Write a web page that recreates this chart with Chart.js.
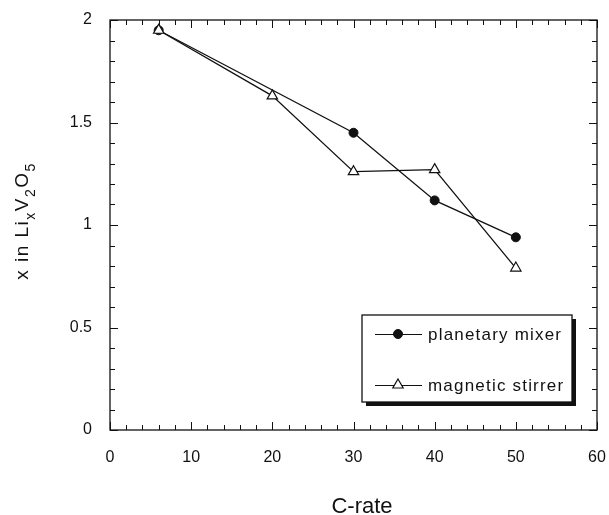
<!DOCTYPE html>
<html>
<head>
<meta charset="utf-8">
<script src="https://cdn.jsdelivr.net/npm/chart.js@4.4.1/dist/chart.umd.min.js"></script>
<style>
  html, body { margin: 0; padding: 0; background: #fff; }
  #wrap { width: 609px; height: 515px; position: relative; }
</style>
</head>
<body>
<div id="wrap"><canvas id="chart" width="609" height="515"></canvas></div>
<script>
// values
const mixerRate = [6, 30, 40, 50];
const mixerX = [1.95, 1.45, 1.12, 0.94];
const stirrerRate = [6, 20, 30, 40, 50];
const stirrerX = [1.95, 1.63, 1.26, 1.27, 0.79];
const xTicks = [0, 10, 20, 30, 40, 50, 60];
const yTicks = [0, 0.5, 1, 1.5, 2];
const seriesNames = ["planetary mixer", "magnetic stirrer"];

const FONT = "'Liberation Sans', Arial, sans-serif";

const toPts = (xs, ys) => xs.map((x, i) => ({ x, y: ys[i] }));

// inward ticks on all four sides, frame, axis titles, legend box
const frame = {
  id: "frame",
  afterDraw(chart) {
    const { ctx, chartArea: a, scales: { x, y } } = chart;
    ctx.save();
    ctx.strokeStyle = "#111";
    ctx.lineWidth = 1.3;
    ctx.strokeRect(a.left, a.top, a.right - a.left, a.bottom - a.top);
    ctx.lineWidth = 1;
    ctx.beginPath();
    for (let v = 0; v <= 60; v += 2) {
      const px = Math.round(x.getPixelForValue(v)) + 0.5;
      const len = v % 10 === 0 ? 8 : 5;
      ctx.moveTo(px, a.bottom); ctx.lineTo(px, a.bottom - len);
      ctx.moveTo(px, a.top); ctx.lineTo(px, a.top + len);
    }
    for (let i = 0; i <= 20; i++) {
      const py = Math.round(y.getPixelForValue(i / 10)) + 0.5;
      const len = i % 5 === 0 ? 8 : 5;
      ctx.moveTo(a.left, py); ctx.lineTo(a.left + len, py);
      ctx.moveTo(a.right, py); ctx.lineTo(a.right - len, py);
    }
    ctx.stroke();

    // x title
    ctx.fillStyle = "#111";
    ctx.font = "22px " + FONT;
    ctx.textAlign = "center";
    ctx.textBaseline = "middle";
    ctx.fillText("C-rate", 362, 507);

    // y title with subscripts
    ctx.textBaseline = "alphabetic";
    ctx.letterSpacing = "1.5px";
    const parts = [["x in Li", 0], ["x", 1], ["V", 0], ["2", 1], ["O", 0], ["5", 1]];
    const big = "19px " + FONT, small = "14px " + FONT;
    let total = 0;
    parts.forEach(([t, s]) => { ctx.font = s ? small : big; total += ctx.measureText(t).width; });
    ctx.translate(28, 221);
    ctx.rotate(-Math.PI / 2);
    ctx.textAlign = "left";
    let cx = -total / 2;
    parts.forEach(([t, s]) => {
      ctx.font = s ? small : big;
      ctx.fillText(t, cx, s ? 7 : 0);
      cx += ctx.measureText(t).width;
    });
    ctx.restore();

    // legend box with drop shadow
    const bx = 362, by = 315, bw = 210, bh = 87;
    ctx.save();
    ctx.fillStyle = "#111";
    ctx.fillRect(bx + 4, by + 4, bw, bh);
    ctx.fillStyle = "#fff";
    ctx.fillRect(bx, by, bw, bh);
    ctx.strokeStyle = "#111";
    ctx.lineWidth = 1.3;
    ctx.strokeRect(bx, by, bw, bh);
    const rows = [334, 385];
    chart.data.datasets.forEach((ds, i) => {
      const ly = rows[i];
      ctx.strokeStyle = "#111";
      ctx.lineWidth = 1;
      ctx.beginPath();
      ctx.moveTo(375, ly + 0.5); ctx.lineTo(422, ly + 0.5);
      ctx.stroke();
      ctx.fillStyle = ds.pointBackgroundColor;
      ctx.strokeStyle = ds.pointBorderColor;
      ctx.lineWidth = ds.pointBorderWidth;
      Chart.helpers.drawPoint(ctx, {
        pointStyle: ds.pointStyle, radius: ds.pointRadius,
        borderWidth: ds.pointBorderWidth
      }, 398, ly);
      ctx.fillStyle = "#111";
      ctx.font = "17px " + FONT;
      ctx.letterSpacing = "1.2px";
      ctx.textAlign = "left";
      ctx.textBaseline = "middle";
      ctx.fillText(seriesNames[i], 428, ly + 1);
    });
    ctx.restore();
  }
};

const noPad = (s) => { s.paddingLeft = 0; s.paddingRight = 0; s.paddingTop = 0; s.paddingBottom = 0; };

new Chart(document.getElementById("chart"), {
  type: "scatter",
  data: {
    datasets: [
      {
        label: seriesNames[0],
        data: toPts(mixerRate, mixerX),
        order: 1,
        showLine: true,
        borderColor: "#111",
        backgroundColor: "#111",
        borderWidth: 1.3,
        pointStyle: "circle",
        pointRadius: 4.5,
        pointBackgroundColor: "#111",
        pointBorderColor: "#111",
        pointBorderWidth: 1
      },
      {
        label: seriesNames[1],
        data: toPts(stirrerRate, stirrerX),
        order: 0,
        showLine: true,
        borderColor: "#111",
        backgroundColor: "#fff",
        borderWidth: 1.3,
        pointStyle: "triangle",
        pointRadius: 6,
        pointBackgroundColor: "#fff",
        pointBorderColor: "#111",
        pointBorderWidth: 1.2
      }
    ]
  },
  options: {
    responsive: false,
    animation: false,
    layout: { padding: { top: 20, right: 12, left: 0, bottom: 0 } },
    plugins: { legend: { display: false }, tooltip: { enabled: false } },
    scales: {
      x: {
        type: "linear", min: 0, max: 60,
        afterBuildTicks: (s) => { s.ticks = xTicks.map(v => ({ value: v })); },
        afterFit: (s) => { s.height = 85; noPad(s); },
        grid: { display: false, drawTicks: false },
        border: { display: false },
        ticks: { color: "#111", padding: 18, maxRotation: 0, font: { family: FONT, size: 16 }, callback: v => String(v) }
      },
      y: {
        type: "linear", min: 0, max: 2,
        afterBuildTicks: (s) => { s.ticks = yTicks.map(v => ({ value: v })); },
        afterFit: (s) => { s.width = 110; noPad(s); },
        grid: { display: false, drawTicks: false },
        border: { display: false },
        ticks: { color: "#111", padding: 18, font: { family: FONT, size: 16 }, callback: v => String(v) }
      }
    }
  },
  plugins: [frame]
});
</script>
</body>
</html>
